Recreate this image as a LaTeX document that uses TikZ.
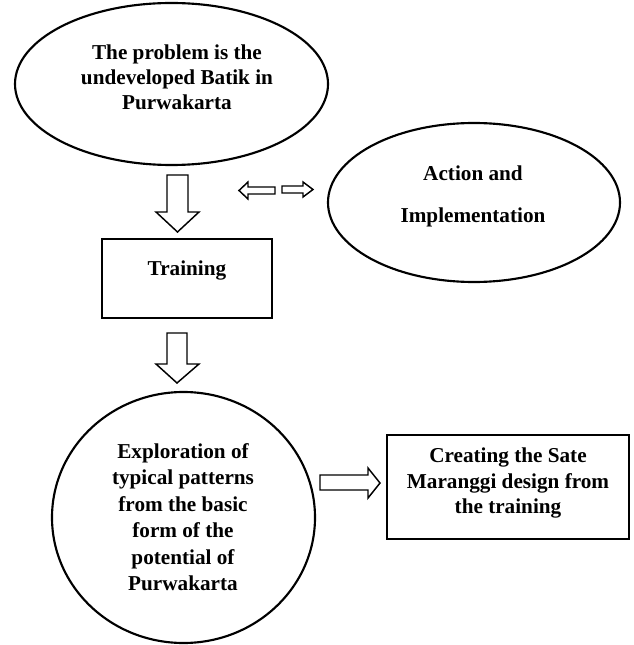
\documentclass[tikz,border=0pt]{standalone}
\usepackage{fontspec}
\setmainfont{Liberation Serif}
\usetikzlibrary{shapes.geometric}
\begin{document}
\begin{tikzpicture}[x=0.75pt,y=-0.75pt,
  shapeline/.style={draw=black, line width=1.6pt},
  oval/.style={shapeline, ellipse, inner sep=0pt},
  boxshape/.style={shapeline, rectangle, inner sep=0pt},
  txt/.style={font=\bfseries\fontsize{15.9}{18.9}\selectfont, align=center, inner sep=0pt},
  blockarrow/.style={draw=black, line width=1.1pt, fill=white, line join=miter}]
\useasboundingbox (0,0) rectangle (634,645);
% shapes
\node[oval, minimum width=234.75pt, minimum height=121.5pt] (problem) at (171.5,84) {};
\node[oval, minimum width=219pt, minimum height=119.25pt] (action) at (474,202.5) {};
\node[boxshape, minimum width=127.5pt, minimum height=59.25pt] (training) at (187,278.5) {};
\node[oval, minimum width=197.25pt, minimum height=188.25pt] (explore) at (183.5,517.5) {};
\node[boxshape, minimum width=181.5pt, minimum height=78pt] (create) at (508,487) {};
% texts
\node[txt] (problemtxt) at (177,77) {The problem is the\\undeveloped Batik in\\Purwakarta};
\node[txt, font=\bfseries\fontsize{15.9}{31.5}\selectfont] (actiontxt) at (473,196) {Action and\\Implementation};
\node[txt, anchor=base] (trainingtxt) at (187,275) {Training};
\node[txt, font=\bfseries\fontsize{15.9}{19.9}\selectfont] (exploretxt) at (183,517) {Exploration of\\typical patterns\\from the basic\\form of the\\potential of\\Purwakarta};
\node[txt, font=\bfseries\fontsize{15.9}{19.1}\selectfont] (createtxt) at (508,483) {Creating the Sate\\Maranggi design from\\the training};
% block arrows
\draw[blockarrow] (167,175) -- (188,175) -- (188,212) -- (199,212) -- (177.5,232) -- (156,212) -- (167,212) -- cycle;
\draw[blockarrow] (167,333) -- (187,333) -- (187,364) -- (199,364) -- (177,383) -- (156,364) -- (167,364) -- cycle;
\draw[blockarrow] (275,187) -- (248,187) -- (248,182) -- (239,190.5) -- (248,199) -- (248,194) -- (275,194) -- cycle;
\draw[blockarrow] (282,186) -- (303,186) -- (303,182) -- (313,189.5) -- (303,197) -- (303,193) -- (282,193) -- cycle;
\draw[blockarrow] (320,475) -- (368,475) -- (368,468) -- (380,483) -- (368,498) -- (368,490) -- (320,490) -- cycle;
\end{tikzpicture}
\end{document}
